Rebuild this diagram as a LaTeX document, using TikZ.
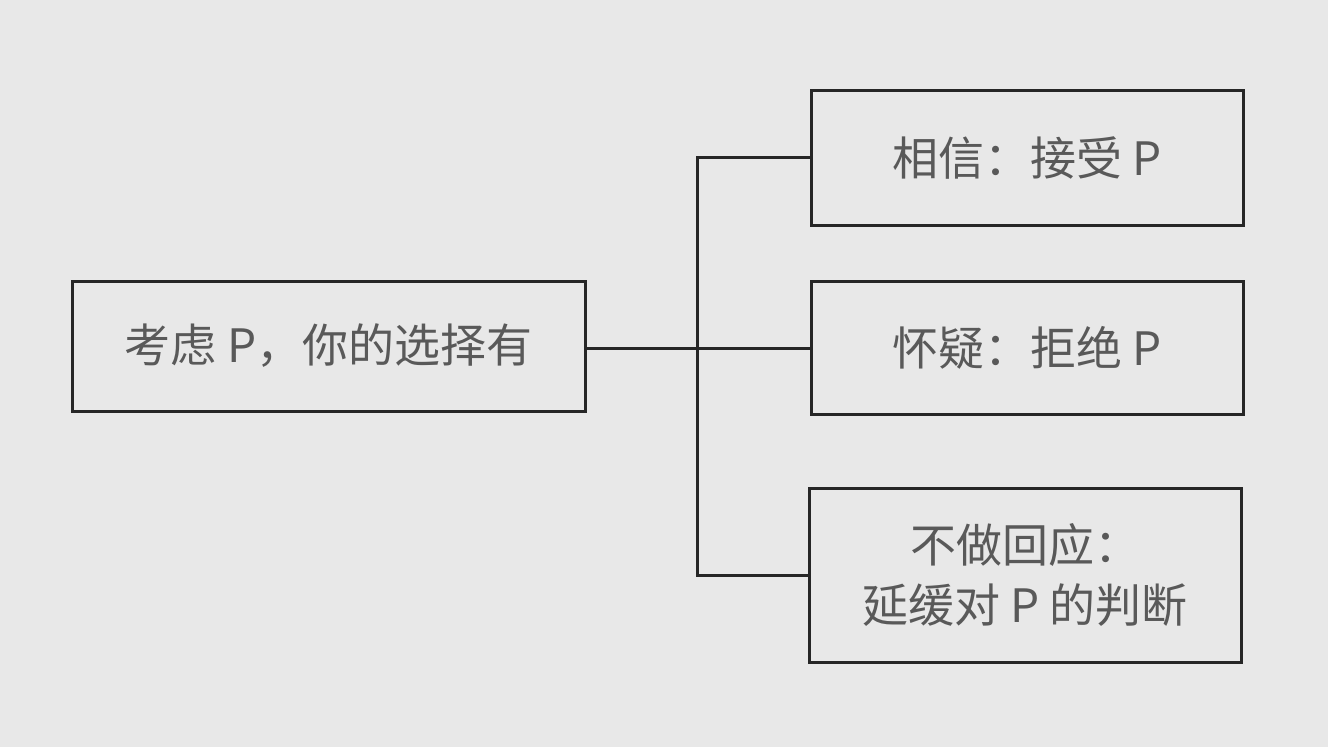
\documentclass[tikz,border=0pt]{standalone}
\usepackage{fontspec}
\newfontfamily\cjk{Noto Sans CJK SC}
\begin{document}
\begin{tikzpicture}[x=1pt,y=-1pt,
  box/.style={draw=black!85,line width=3pt,inner sep=0pt,text=black!65,font=\cjk\fontsize{46}{60}\selectfont,align=center},
  conn/.style={draw=black!85,line width=3pt}]
\fill[gray!18] (0,0) rectangle (1328,747);
\useasboundingbox (0,0) rectangle (1328,747);
\node[box,minimum width=513pt,minimum height=130pt] (q) at (328.5,346) {考虑 P，你的选择有};
\node[box,minimum width=432pt,minimum height=135pt] (a) at (1027,157.5) {相信：接受 P};
\node[box,minimum width=432pt,minimum height=133pt] (b) at (1027,347.5) {怀疑：拒绝 P};
\node[box,minimum width=432pt,minimum height=174pt] (c) at (1025,575) {不做回应：\\延缓对 P 的判断};
\coordinate (j) at (697,348);
\draw[conn] (q.east |- j) -- (b.west |- j);
\draw[conn] (j) |- (a.west);
\draw[conn] (j) |- (c.west);
\end{tikzpicture}
\end{document}
